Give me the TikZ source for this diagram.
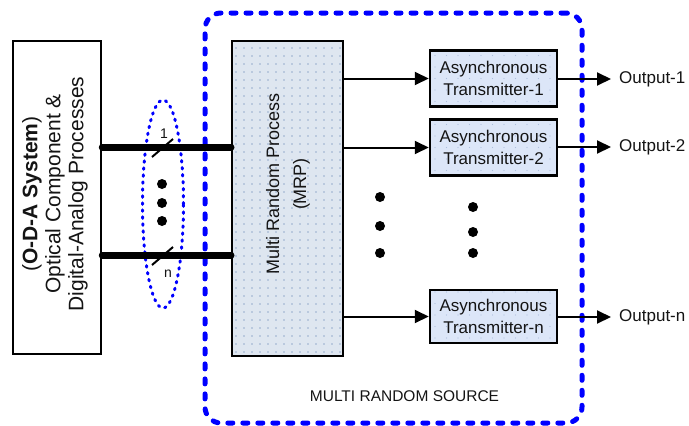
\documentclass[tikz,border=0pt]{standalone}
\usepackage{fontspec}
\setmainfont{Liberation Sans}
\usetikzlibrary{arrows.meta,shapes.geometric}

\definecolor{srcblue}{RGB}{0,0,255}
\definecolor{mrpfill}{RGB}{222,230,240}
\definecolor{mrpdot}{RGB}{150,172,205}
\definecolor{txfill}{RGB}{220,230,248}
\definecolor{txdot}{RGB}{172,190,222}
\definecolor{txt}{RGB}{20,20,20}

\tikzset{
  plainbox/.style={draw, line width=2.5pt, fill=white, inner sep=0pt},
  mrpbox/.style={draw, line width=2pt, fill=mrpfill, inner sep=0pt,
    minimum width=111pt, minimum height=315pt,
    path picture={
      \foreach \i in {0,...,14}{\foreach \j in {0,...,40}{
        \fill[mrpdot] ([xshift=\i*8pt+4pt, yshift=\j*8pt+4pt]path picture bounding box.south west) circle (0.8pt);}}}},
  txbox/.style={draw, line width=2.5pt, fill=txfill, inner sep=0pt,
    minimum width=127pt, minimum height=56pt, align=center, text=txt,
    font=\fontsize{17}{21.5}\selectfont,
    path picture={
      \foreach \i in {0,...,11}{\foreach \j in {0,...,5}{
        \fill[txdot] ([xshift=\i*11.5pt+5pt, yshift=\j*11.5pt+5pt]path picture bounding box.south west) circle (0.7pt);}}}},
  bus/.style={line width=7pt, line cap=round},
  slashmark/.style={line width=2pt},
  arr/.style={line width=2pt, -{Triangle[length=14pt,width=13pt]}},
  srcframe/.style={draw=srcblue, line width=5pt, line cap=round,
    dash pattern=on 5pt off 10pt, rounded corners=16pt, inner sep=0pt},
  groupring/.style={draw=srcblue, line width=3pt, line cap=round,
    dash pattern=on 1.5pt off 5.5pt, ellipse, inner sep=0pt},
  outlabel/.style={anchor=west, inner xsep=0pt, text=txt,
    font=\fontsize{17}{21}\selectfont},
  bigdot/.style={fill=black}
}

\begin{document}
\begin{tikzpicture}[x=1pt,y=-1pt]
\useasboundingbox (0,0) rectangle (689,426);

% multi random source frame
\node[srcframe, minimum width=377pt, minimum height=410pt] (mrs) at (393.5,218) {};
\node[text=txt, font=\fontsize{15.5}{18}\selectfont] (mrslabel) at (404.5,396) {MULTI RANDOM SOURCE};

% O-D-A system block
\node[plainbox, minimum width=88pt, minimum height=313pt] (oda) at (57,197.5) {};
\node[rotate=90, align=center, text=txt, font=\fontsize{21}{23}\selectfont] (odatext) at (55,194)
  {(\textbf{O-D-A System})\\Optical Component \&\\Digital-Analog Processes};

% multi random process block
\node[mrpbox] (mrp) at (287.5,198.5) {};
\node[rotate=90, align=center, text=txt, font=\fontsize{18}{27}\selectfont] (mrptext) at (288,184)
  {Multi Random Process\\(MRP)};

% grouping ring round the parallel channels
\node[groupring, minimum width=41pt, minimum height=208pt] (ring) at (163,204) {};

% parallel channels
\coordinate (busA) at (0,147);
\coordinate (busN) at (0,255);
\draw[bus] (oda.east |- busA) -- (mrp.west |- busA);
\draw[bus] (oda.east |- busN) -- (mrp.west |- busN);
\draw[slashmark] (152,157) -- (173,139);
\draw[slashmark] (152,265) -- (173,247);
\node[text=txt, font=\fontsize{14}{16}\selectfont] (lblA) at (164,134) {1};
\node[text=txt, font=\fontsize{14}{16}\selectfont] (lblN) at (168,274) {n};
\fill[bigdot] (162,184) circle (5pt);
\fill[bigdot] (162,203) circle (5pt);
\fill[bigdot] (162,221) circle (5pt);

% asynchronous transmitters
\node[txbox] (t1) at (493.5,78.5) {Asynchronous\\Transmitter-1};
\node[txbox] (t2) at (493.5,147.5) {Asynchronous\\Transmitter-2};
\node[txbox, minimum height=53pt] (tn) at (493.5,316.5) {Asynchronous\\Transmitter-n};

\draw[arr] (mrp.east |- t1.west) -- (t1.west);
\draw[arr] (mrp.east |- t2.west) -- (t2.west);
\draw[arr] (mrp.east |- tn.west) -- (tn.west);

% elided channels
\fill[bigdot] (380,197) circle (5pt);
\fill[bigdot] (380,226) circle (5pt);
\fill[bigdot] (380,253) circle (5pt);
\fill[bigdot] (473,207) circle (5pt);
\fill[bigdot] (473,232) circle (5pt);
\fill[bigdot] (473,253) circle (5pt);

% outputs
\node[outlabel] (o1) at (619,79) {Output-1};
\node[outlabel] (o2) at (619,147) {Output-2};
\node[outlabel] (on) at (619,317) {Output-n};
\draw[arr] (t1.east |- o1.west) -- ([xshift=-8pt]o1.west);
\draw[arr] (t2.east |- o2.west) -- ([xshift=-8pt]o2.west);
\draw[arr] (tn.east |- on.west) -- ([xshift=-8pt]on.west);
\end{tikzpicture}
\end{document}
